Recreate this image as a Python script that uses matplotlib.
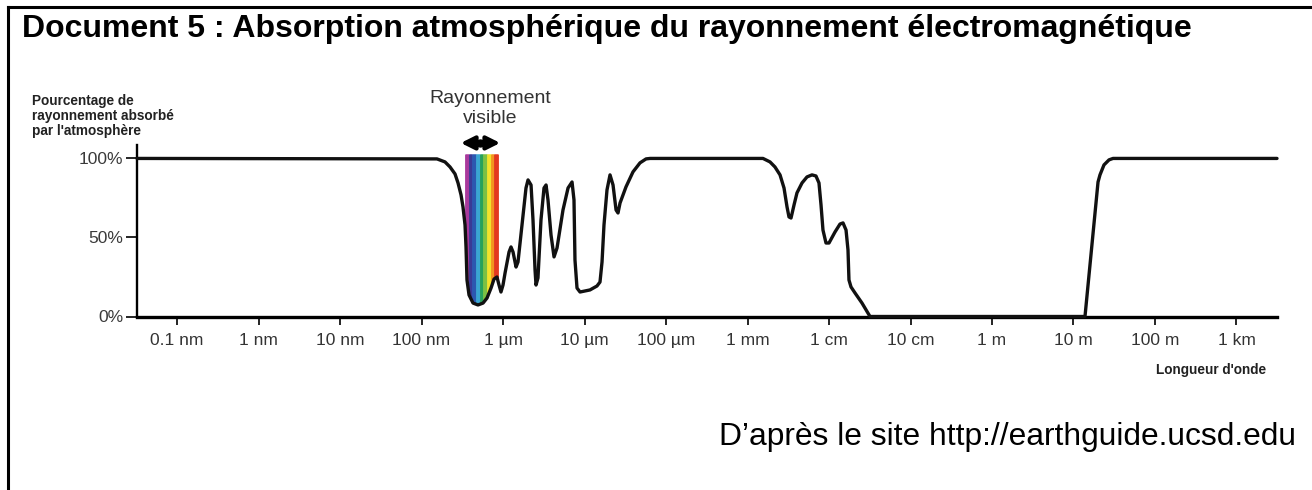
import matplotlib
matplotlib.use('Agg')
import matplotlib.pyplot as plt
from matplotlib.lines import Line2D
from matplotlib.patches import Polygon
import numpy as np

plt.rcParams['font.family'] = ['Liberation Sans', 'DejaVu Sans']

# absorption curve: log10 of wavelength (m) and % absorbed
log10_wavelength_m = [
    -10.491, -6.810, -6.712, -6.650, -6.589, -6.552, -6.515, -6.491, -6.466,
    -6.454, -6.442, -6.417, -6.368, -6.307, -6.245, -6.196, -6.147, -6.110,
    -6.074, -6.049, -6.025, -6.000, -5.975, -5.926, -5.902, -5.877, -5.840,
    -5.816, -5.767, -5.718, -5.693, -5.656, -5.632, -5.607, -5.595, -5.571,
    -5.534, -5.497, -5.472, -5.448, -5.411, -5.374, -5.337, -5.264, -5.202,
    -5.153, -5.129, -5.117, -5.092, -5.055, -4.933, -4.847, -4.810, -4.785,
    -4.761, -4.724, -4.687, -4.650, -4.613, -4.589, -4.564, -4.491, -4.405,
    -4.319, -4.245, -4.196,
    -2.810, -2.724, -2.663, -2.601, -2.552, -2.515, -2.491, -2.466, -2.429,
    -2.393, -2.331, -2.270, -2.209, -2.160, -2.123, -2.098, -2.074, -2.037,
    -2.000, -1.926, -1.865, -1.828, -1.791, -1.767, -1.755, -1.730, -1.681,
    -1.595, -1.497,
    1.141, 1.301, 1.325, 1.374, 1.436, 1.485, 3.497,
]
absorbed_pct = [
    100, 99.7, 97.8, 94.6, 90.2, 84.5, 76.9, 69.3, 57.9,
    44.0, 23.1, 13.6, 8.5, 7.3, 8.5, 11.7, 18.0, 23.7,
    25.0, 19.9, 15.5, 19.9, 27.5, 40.8, 44.0, 40.8, 31.3,
    34.5, 57.9, 81.3, 86.4, 83.2, 61.1, 29.4, 19.9, 24.4,
    61.1, 81.3, 83.2, 73.7, 51.6, 37.7, 43.4, 67.4, 81.3,
    85.1, 73.7, 35.8, 18.0, 15.5, 16.8, 19.3, 21.8, 34.5,
    57.9, 80.1, 89.6, 83.2, 67.4, 65.5, 71.8, 82.0, 91.5,
    97.2, 99.7, 100,
    100, 97.8, 94.6, 89.6, 81.3, 69.3, 63.0, 62.3, 70.6,
    78.2, 84.5, 88.3, 89.6, 88.9, 84.5, 70.6, 54.7, 46.5,
    46.5, 53.5, 58.5, 59.2, 54.7, 42.1, 23.1, 18.7, 14.9,
    8.5, 0,
    0, 85.1, 89.6, 95.9, 99.1, 100, 100,
]

tick_wavelengths = [1e-10, 1e-9, 1e-8, 1e-7, 1e-6, 1e-5, 1e-4,
                    1e-3, 1e-2, 1e-1, 1e0, 1e1, 1e2, 1e3]
tick_labels = ['0.1 nm', '1 nm', '10 nm', '100 nm', '1 µm', '10 µm', '100 µm',
               '1 mm', '1 cm', '10 cm', '1 m', '10 m', '100 m', '1 km']
pct_ticks = [0, 50, 100]
pct_labels = ['0%', '50%', '100%']

# visible band, violet -> red
visible_range_m = [3.42e-7, 8.7e-7]
visible_colors = ['#a8399c', '#3a3a95', '#2c58b0', '#3aa6d2', '#27a15a',
                  '#7cc043', '#f2e22b', '#f2941f', '#e3381f']

wavelength_m = 10.0 ** np.array(log10_wavelength_m)

W, H = 1312, 490
fig = plt.figure(figsize=(W / 100, H / 100), dpi=100)
fig.patch.set_facecolor('white')

# chart area in pixels
x0, x1 = 137, 1277
y_zero, y_top = 316.5, 145
ax = fig.add_axes([x0 / W, 1 - y_zero / H, (x1 - x0) / W, (y_zero - y_top) / H])
ax.set_xscale('log')
ax.set_xlim(wavelength_m[0], wavelength_m[-1])
ax.set_ylim(0, 108.5)

# rainbow stripes clipped to the region above the curve
clip_verts = list(zip(wavelength_m, absorbed_pct)) + [
    (wavelength_m[-1], 102.5), (wavelength_m[0], 102.5)]
clip_poly = Polygon(clip_verts, closed=True, transform=ax.transData)
edges = np.geomspace(visible_range_m[0], visible_range_m[1], len(visible_colors) + 1)
for i, c in enumerate(visible_colors):
    band = ax.fill_between([edges[i], edges[i + 1]], 0, 102.5,
                           color=c, lw=0.6, edgecolor=c, zorder=2)
    band.set_clip_path(clip_poly)

ax.plot(wavelength_m, absorbed_pct, color='#111111', lw=2.4,
        solid_joinstyle='round', solid_capstyle='round', zorder=5, clip_on=False)

for side in ['top', 'right']:
    ax.spines[side].set_visible(False)
ax.spines['bottom'].set_linewidth(2.4)
ax.spines['left'].set_linewidth(1.7)

ax.set_xticks(tick_wavelengths)
ax.set_xticklabels(tick_labels)
ax.xaxis.set_minor_locator(matplotlib.ticker.NullLocator())
ax.tick_params(axis='x', direction='out', length=6, width=1.2, pad=6,
               labelsize=12.5, labelcolor='#333333')
ax.set_yticks(pct_ticks)
ax.set_yticklabels(pct_labels)
ax.tick_params(axis='y', direction='out', length=8, width=1.2, pad=2,
               labelsize=12.5, labelcolor='#3a3a3a')

# double arrow over the visible band
arr_y = 109.8
for end in (2.805e-7, 1.0e-6):
    ax.annotate('', xy=(end, arr_y), xytext=(5.22e-7, arr_y),
                arrowprops=dict(arrowstyle='-|>', lw=3, color='black', mutation_scale=20),
                annotation_clip=False)
ax.plot([5.22e-7], [arr_y], marker='o', ms=5, color='black', clip_on=False)

fig.text(490 / W, 1 - 108.5 / H, 'Rayonnement\nvisible', ha='center', va='center',
         fontsize=14, color='#333333', linespacing=1.2)

# texts around the chart
fig.text(22 / W, 1 - 37 / H,
         'Document 5 : Absorption atmosphérique du rayonnement électromagnétique',
         fontsize=23, fontweight='bold', va='baseline', ha='left')
fig.text(32 / W, 1 - 116 / H, "Pourcentage de\nrayonnement absorbé\npar l'atmosphère",
         fontsize=9.8, fontweight='bold', va='center', ha='left', linespacing=1.1,
         color='#222222')
fig.text(1266 / W, 1 - 370 / H, "Longueur d'onde", fontsize=9.8, fontweight='bold',
         ha='right', va='center', color='#222222')
fig.text(1296 / W, 1 - 437 / H, 'D’après le site http://earthguide.ucsd.edu',
         fontsize=22.9, ha='right', va='center')

# frame of the document box
fig.add_artist(Line2D([8 / W, 8 / W], [0, 1 - 7 / H], transform=fig.transFigure,
                      color='black', lw=2.2))
fig.add_artist(Line2D([8 / W, 1], [1 - 7 / H, 1 - 7 / H], transform=fig.transFigure,
                      color='black', lw=2.2))

fig.savefig('out.png', dpi=100, facecolor='white')
